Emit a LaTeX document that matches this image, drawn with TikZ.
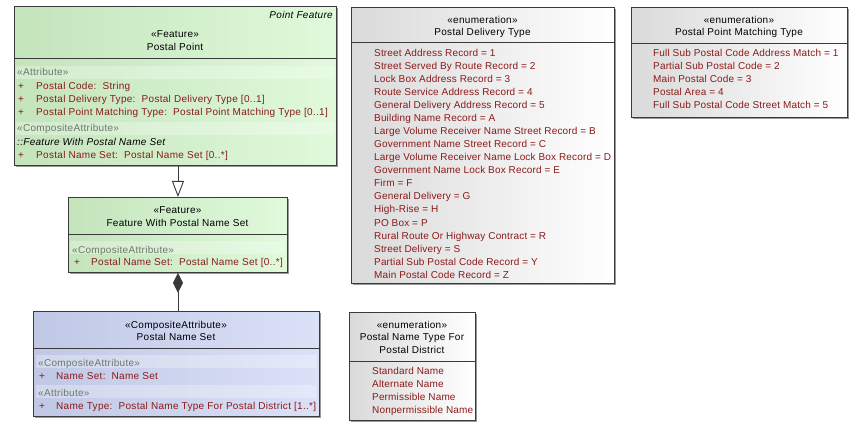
\documentclass[tikz,border=0pt]{standalone}
\usepackage{fontspec}
\setmainfont{Liberation Sans}[LetterSpace=3]
\newfontfamily\enumf{Liberation Sans}[LetterSpace=1.6]
\usetikzlibrary{arrows.meta}
\definecolor{attr}{HTML}{8B1A1A}
\definecolor{stereo}{HTML}{6A7A6A}
\definecolor{gL}{HTML}{C4E4BC}
\definecolor{gR}{HTML}{E0FADB}
\definecolor{bL}{HTML}{C0C8E6}
\definecolor{bR}{HTML}{DBE1F7}
\definecolor{eL}{HTML}{DADADA}
\definecolor{eR}{HTML}{FFFFFF}
\definecolor{edge}{HTML}{3A3A3A}
\begin{document}
\begin{tikzpicture}[x=1pt,y=-1pt, font=\fontsize{10}{12}\selectfont,
 box/.style={draw=edge, line width=0.9pt, inner sep=0pt, anchor=north west},
 shadowbox/.style={fill=black!40, draw=none, inner sep=0pt, anchor=north west},
 sep/.style={draw=edge, line width=0.9pt},
 txt/.style={inner sep=0pt, anchor=base west, text=attr},
 etxt/.style={txt, font=\enumf\fontsize{10}{12}\selectfont},
 ctr/.style={inner sep=0pt, anchor=base, text=black},
 ster/.style={inner sep=0pt, anchor=base west, text=stereo},
 band/.style={fill=white, fill opacity=0.28, draw=none}]
\useasboundingbox (0,0) rectangle (858,430);

% ---------- Postal Point ----------
\node[shadowbox, minimum width=322pt, minimum height=159pt] (ppS) at (15.5,7.5) {};
\node[box, minimum width=322pt, minimum height=159pt, left color=gL, right color=gR] (pp) at (14,6) {};
\draw[sep] (pp.west |- 0,58) -- (pp.east |- 0,58);
\fill[band] (16,66) rectangle (334,79);
\fill[band] (16,122) rectangle (334,135);
\node[inner sep=0pt, anchor=base east, font=\fontsize{10}{12}\selectfont\itshape] (ppkind) at (333,19) {Point Feature};
\node[ctr] (ppst) at (175,38) {«Feature»};
\node[ctr] (ppname) at (175,51) {Postal Point};
\node[ster] (pps1) at (17,76) {«Attribute»};
\node[txt] (ppp1) at (18,90) {+};
\node[txt] (ppa1) at (36,90) {Postal Code:\ \ String};
\node[txt] (ppp2) at (18,103) {+};
\node[txt] (ppa2) at (36,103) {Postal Delivery Type:\ \ Postal Delivery Type [0..1]};
\node[txt] (ppp3) at (18,116) {+};
\node[txt] (ppa3) at (36,116) {Postal Point Matching Type:\ \ Postal Point Matching Type [0..1]};
\node[ster] (pps2) at (17,132) {«CompositeAttribute»};
\node[inner sep=0pt, anchor=base west, font=\fontsize{10}{12}\selectfont\itshape] (ppinh) at (17,146) {::Feature With Postal Name Set};
\node[txt] (ppp4) at (18,159) {+};
\node[txt] (ppa4) at (36,159) {Postal Name Set:\ \ Postal Name Set [0..*]};

% ---------- Feature With Postal Name Set ----------
\node[shadowbox, minimum width=219pt, minimum height=75pt] (fwS) at (69.5,198.5) {};
\node[box, minimum width=219pt, minimum height=75pt, left color=gL, right color=gR] (fw) at (68,197) {};
\draw[sep] (fw.west |- 0,234) -- (fw.east |- 0,234);
\fill[band] (70,241) rectangle (285,254);
\node[ctr] (fwst) at (177.5,214) {«Feature»};
\node[ctr] (fwname) at (177.5,226) {Feature With Postal Name Set};
\node[ster] (fws1) at (72,253) {«CompositeAttribute»};
\node[txt] (fwp1) at (74,265) {+};
\node[txt] (fwa1) at (91,265) {Postal Name Set:\ \ Postal Name Set [0..*]};

% ---------- Postal Name Set ----------
\node[shadowbox, minimum width=286pt, minimum height=105pt] (pnsS) at (34.5,312.5) {};
\node[box, minimum width=286pt, minimum height=105pt, left color=bL, right color=bR] (pns) at (33,311) {};
\draw[sep] (pns.west |- 0,348) -- (pns.east |- 0,348);
\fill[band] (36,355) rectangle (316,368);
\fill[band] (36,385) rectangle (316,398);
\node[ctr] (pnsst) at (176,328) {«CompositeAttribute»};
\node[ctr] (pnsname) at (176,340) {Postal Name Set};
\node[ster] (pnss1) at (38,366) {«CompositeAttribute»};
\node[txt] (pnsp1) at (39,379) {+};
\node[txt] (pnsa1) at (56,379) {Name Set:\ \ Name Set};
\node[ster] (pnss2) at (38,396) {«Attribute»};
\node[txt] (pnsp2) at (39,409) {+};
\node[txt] (pnsa2) at (56,409) {Name Type:\ \ Postal Name Type For Postal District [1..*]};

% ---------- Postal Delivery Type ----------
\node[shadowbox, minimum width=263pt, minimum height=276pt] (pdtS) at (352.5,8.5) {};
\node[box, minimum width=263pt, minimum height=276pt, left color=eL, right color=eR] (pdt) at (351,7) {};
\draw[sep] (pdt.west |- 0,42) -- (pdt.east |- 0,42);
\node[ctr] (pdtst) at (482.5,24) {«enumeration»};
\node[ctr] (pdtname) at (482.5,36) {Postal Delivery Type};
\foreach \t [count=\i from 0] in {Street Address Record = 1,Street Served By Route Record = 2,Lock Box Address Record = 3,Route Service Address Record = 4,General Delivery Address Record = 5,Building Name Record = A,Large Volume Receiver Name Street Record = B,Government Name Street Record = C,Large Volume Receiver Name Lock Box Record = D,Government Name Lock Box Record = E,Firm = F,General Delivery = G,High-Rise = H,PO Box = P,Rural Route Or Highway Contract = R,Street Delivery = S,Partial Sub Postal Code Record = Y,Main Postal Code Record = Z}
  \node[etxt] (pdt\i) at (374,57+13*\i) {\t};

% ---------- Postal Point Matching Type ----------
\node[shadowbox, minimum width=216pt, minimum height=110pt] (ppmS) at (632.5,8.5) {};
\node[box, minimum width=216pt, minimum height=110pt, left color=eL, right color=eR] (ppm) at (631,7) {};
\draw[sep] (ppm.west |- 0,43) -- (ppm.east |- 0,43);
\node[ctr] (ppmst) at (739,24) {«enumeration»};
\node[ctr] (ppmname) at (739,36) {Postal Point Matching Type};
\foreach \t [count=\i from 0] in {Full Sub Postal Code Address Match = 1,Partial Sub Postal Code = 2,Main Postal Code = 3,Postal Area = 4,Full Sub Postal Code Street Match = 5}
  \node[etxt] (ppm\i) at (653,57+13*\i) {\t};

% ---------- Postal Name Type For Postal District ----------
\node[shadowbox, minimum width=126pt, minimum height=108pt] (pntS) at (350.5,313.5) {};
\node[box, minimum width=126pt, minimum height=108pt, left color=eL, right color=eR] (pnt) at (349,312) {};
\draw[sep] (pnt.west |- 0,361) -- (pnt.east |- 0,361);
\node[ctr] (pntst) at (412,328) {«enumeration»};
\node[ctr] (pntn1) at (412,340) {Postal Name Type For};
\node[ctr] (pntn2) at (412,353) {Postal District};
\foreach \t [count=\i from 0] in {Standard Name,Alternate Name,Permissible Name,Nonpermissible Name}
  \node[etxt] (pnt\i) at (372,374+13*\i) {\t};

% ---------- Connectors ----------
\draw[edge, line width=0.9pt, -{Triangle[open, length=16pt, width=12pt, line width=0.9pt]}] (fw.north |- pp.south) -- (fw.north);
\draw[edge, line width=0.9pt, {Diamond[length=20pt, width=10pt]}-] (fw.south) -- (fw.south |- pns.north);
\end{tikzpicture}
\end{document}
